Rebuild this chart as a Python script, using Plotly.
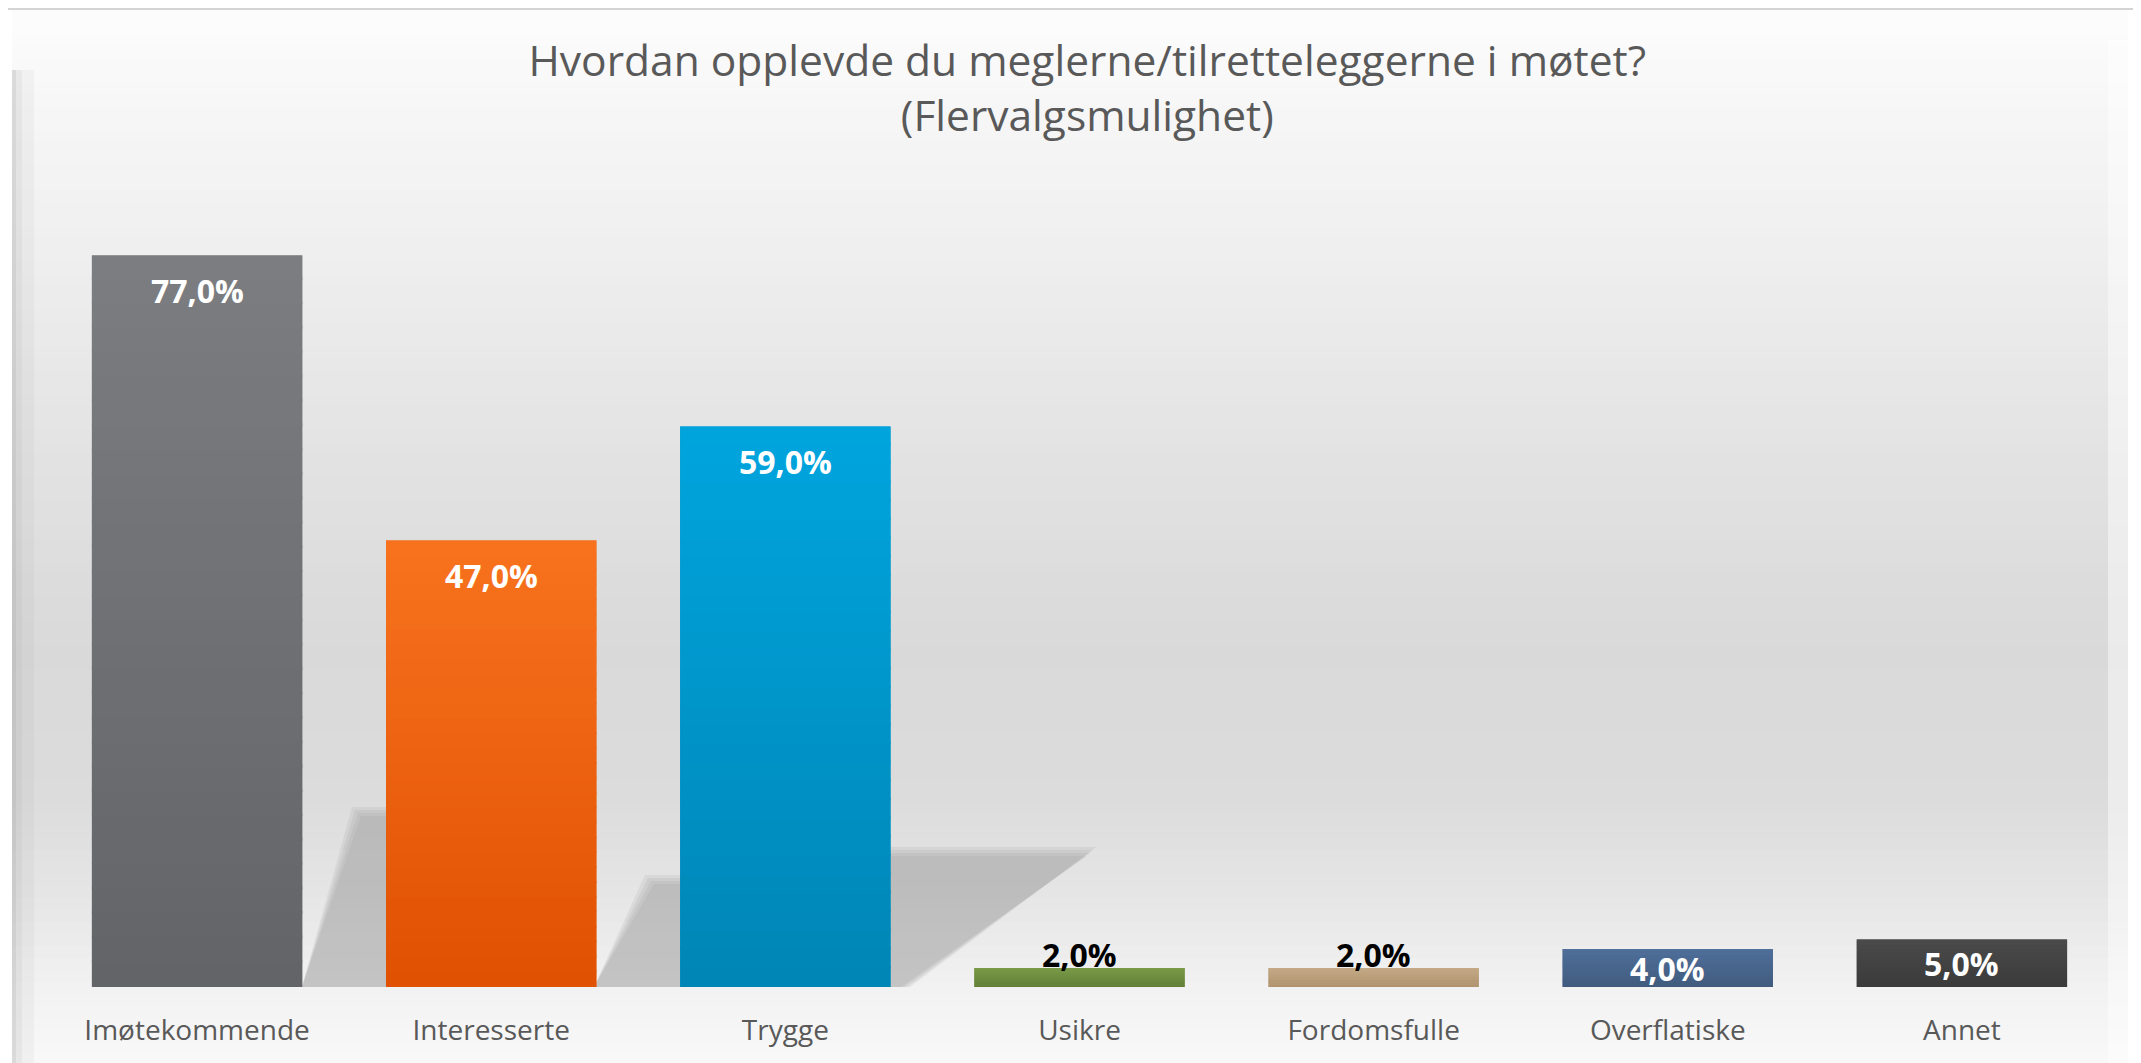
import plotly.graph_objects as go

# ---- data ----
categories = ["Imøtekommende", "Interesserte", "Trygge", "Usikre",
              "Fordomsfulle", "Overflatiske", "Annet"]
values = [77.0, 47.0, 59.0, 2.0, 2.0, 4.0, 5.0]
bar_colors = ["#707175", "#ea5e12", "#0092c6", "#6f8c42",
              "#bba17f", "#4a6890", "#434343"]
grad_top = ["#7c7d81", "#f8731f", "#00a5de", "#7d9d4a", "#c6ab88", "#50709a", "#4b4b4b"]
grad_bot = ["#636468", "#e05000", "#0085b5", "#5f7d35", "#ae916c", "#405a7d", "#3a3a3a"]
title_text = "Hvordan opplevde du meglerne/tilretteleggerne i møtet?<br>(Flervalgsmulighet)"

OFF = 8  # page body margin
W, H = 2141 - OFF, 1063 - OFF


def fx(px):  # page pixel -> figure pixel
    return px - OFF


PX0, PX1 = fx(50), fx(2109)
PY0, PY1 = fx(132), fx(987)
L, R, T, B = PX0, W - PX1, PY0, H - PY1

FONT = "Open Sans, sans-serif"


def px_x(px):
    return (fx(px) - PX0) / (PX1 - PX0)


def px_y(py):
    return (PY1 - fx(py)) / (PY1 - PY0)


def hex2rgb(h):
    h = h.lstrip("#")
    return tuple(int(h[i:i + 2], 16) for i in (0, 2, 4))


def mix(c0, c1, t):
    a, b = hex2rgb(c0), hex2rgb(c1)
    return "rgb(%d,%d,%d)" % tuple(round(a[i] + (b[i] - a[i]) * t) for i in range(3))


shapes = []

# background panel with vertical gradient (stripes)
stops = [(8, "#fdfdfd"), (100, "#f7f7f7"), (250, "#efefef"), (450, "#e3e3e3"),
         (650, "#d9d9d9"), (800, "#dcdcdc"), (900, "#e6e6e6"), (990, "#f2f2f2"),
         (1063, "#f8f8f8")]


def color_at(y):
    for (y0, c0), (y1, c1) in zip(stops[:-1], stops[1:]):
        if y0 <= y <= y1:
            return mix(c0, c1, (y - y0) / (y1 - y0))
    return stops[-1][1]


y = 10
step = 12
while y < 1063:
    y2 = min(y + step, 1063)
    shapes.append(dict(type="rect", xref="paper", yref="paper", layer="below",
                       x0=px_x(12), x1=px_x(2128), y0=px_y(y2 + 1), y1=px_y(y),
                       fillcolor=color_at((y + y2) / 2), line=dict(width=0)))
    y = y2

# left bevel shading
for (a, b, op) in [(12, 16, 0.28), (16, 22, 0.16), (22, 34, 0.07)]:
    shapes.append(dict(type="rect", xref="paper", yref="paper", layer="below",
                       x0=px_x(a), x1=px_x(b), y0=px_y(1063), y1=px_y(70),
                       fillcolor="rgba(140,140,140,%.2f)" % op, line=dict(width=0)))
# right bevel light
shapes.append(dict(type="rect", xref="paper", yref="paper", layer="below",
                   x0=px_x(2108), x1=px_x(2128), y0=px_y(1063), y1=px_y(40),
                   fillcolor="rgba(255,255,255,0.45)", line=dict(width=0)))
# top line
shapes.append(dict(type="line", xref="paper", yref="paper", layer="below",
                   x0=px_x(0), x1=px_x(2141), y0=px_y(9), y1=px_y(9),
                   line=dict(color="#d4d4d4", width=2)))


# soft bar shadows (layered to imitate blur)
def poly(pts):
    return "M " + " L ".join("%f,%f" % (px_x(a), px_y(b)) for a, b in pts) + " Z"


for g in (10, 7, 4, 1):
    for pts in [
        [(302, 987), (362 - g, 817 - g), (395, 817 - g), (395, 987)],
        [(594, 987), (655 - g, 885 - g), (690, 885 - g), (690, 987)],
        [(886, 857 - g), (1086 + g, 857 - g), (900 + g, 987), (886, 987)],
    ]:
        shapes.append(dict(type="path", xref="paper", yref="paper", layer="below",
                           path=poly(pts), fillcolor="rgba(150,150,150,0.15)",
                           line=dict(width=0)))

# bar gradient overlays (computed from the data values)
half_w = 0.715 / 2
n_strips = 30
for i, v in enumerate(values):
    for k in range(n_strips):
        y0 = v * k / n_strips
        y1 = v * (k + 1) / n_strips + v * 0.004
        t = 1 - (k + 0.5) / n_strips
        shapes.append(dict(type="rect", xref="x", yref="y", layer="above",
                           x0=i - half_w, x1=i + half_w, y0=y0, y1=min(y1, v),
                           fillcolor=mix(grad_top[i], grad_bot[i], t), line=dict(width=0)))

fig = go.Figure()
fig.add_trace(go.Bar(
    x=categories, y=values, marker=dict(color=bar_colors, line=dict(width=0)),
    width=0.715, hoverinfo="skip", showlegend=False,
))

annotations = []
for c, v in zip(categories, values):
    txt = ("%.1f" % v).replace(".", ",") + "%"
    if v >= 10:
        a = dict(x=c, y=v, yanchor="middle", yshift=-35, text=txt, font_color="white")
    elif v <= 2:
        a = dict(x=c, y=v, yanchor="middle", yshift=14, text=txt, font_color="black")
    else:
        a = dict(x=c, y=v / 2, yanchor="middle", text=txt, font_color="white")
    col = a.pop("font_color")
    a.update(showarrow=False, font=dict(family=FONT, size=32, color=col, weight="bold"))
    annotations.append(a)

fig.update_layout(
    width=W, height=H,
    margin=dict(l=L, r=R, t=T, b=B, pad=0),
    paper_bgcolor="white", plot_bgcolor="rgba(0,0,0,0)",
    title=dict(text=title_text, x=0.506, xanchor="center", y=1 - 68 / H, yanchor="middle",
               font=dict(family=FONT, size=42.5, color="#595959")),
    xaxis=dict(showgrid=False, zeroline=False, showline=False, ticks="",
               tickfont=dict(family=FONT, size=28, color="#595959"),
               ticklabelstandoff=24, fixedrange=True),
    yaxis=dict(range=[0, 90], visible=False, fixedrange=True),
    shapes=shapes, annotations=annotations,
    bargap=0.285,
)

fig.write_html("out.html")
